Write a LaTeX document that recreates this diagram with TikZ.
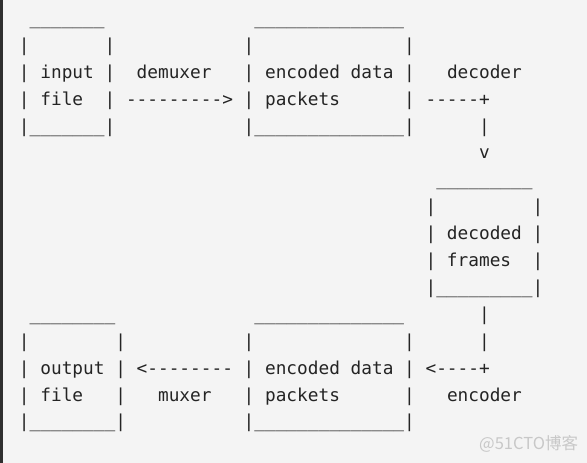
\documentclass[tikz,border=0pt]{standalone}
\usepackage{fontspec}
\setmonofont{DejaVu Sans Mono}
\newfontfamily\cjkfont{Noto Sans CJK SC}
\definecolor{bgc}{HTML}{F4F4F4}
\definecolor{barc}{HTML}{2F2F2F}
\definecolor{txc}{HTML}{242424}
\definecolor{wmc}{HTML}{C8C8C8}
\tikzset{
  asc/.style={anchor=base west, inner sep=0pt, outer sep=0pt, text=txc,
    font=\ttfamily\fontsize{17.77pt}{20pt}\selectfont},
  wm/.style={anchor=base west, inner sep=0pt, text=wmc,
    font=\cjkfont\fontsize{16.5pt}{18pt}\selectfont}
}
\newcommand\cell[4]{\node[asc] (#1) at ({19+#2*10.7},{24.4+#3*26.9}) {#4};}
\begin{document}
\begin{tikzpicture}[x=1pt,y=-1pt]
\fill[bgc] (0,0) rectangle (587,463);
\useasboundingbox (0,0) rectangle (587,463);
\fill[barc] (0,0) rectangle (3,463);
% row 0
\cell{a0}{1}{0}{\_\_\_\_\_\_\_}
\cell{b0}{22}{0}{\_\_\_\_\_\_\_\_\_\_\_\_\_\_}
% row 1
\cell{a1l}{0}{1}{|}
\cell{a1r}{8}{1}{|}
\cell{b1l}{21}{1}{|}
\cell{b1r}{36}{1}{|}
% row 2
\cell{a2}{0}{2}{| input |}
\cell{demux}{11}{2}{demuxer}
\cell{b2}{21}{2}{| encoded data |}
\cell{dec}{40}{2}{decoder}
% row 3
\cell{a3l}{0}{3}{| file}
\cell{a3r}{8}{3}{|}
\cell{arr1}{10}{3}{--------->}
\cell{b3l}{21}{3}{| packets}
\cell{b3r}{36}{3}{|}
\cell{arr2}{38}{3}{-----+}
% row 4
\cell{a4}{0}{4}{|\_\_\_\_\_\_\_|}
\cell{b4}{21}{4}{|\_\_\_\_\_\_\_\_\_\_\_\_\_\_|}
\cell{v4}{43}{4}{|}
% row 5
\cell{v5}{43}{5}{v}
% row 6
\cell{c6}{39}{6}{\_\_\_\_\_\_\_\_\_}
% row 7
\cell{c7l}{38}{7}{|}
\cell{c7r}{48}{7}{|}
% row 8
\cell{c8}{38}{8}{| decoded |}
% row 9
\cell{c9l}{38}{9}{| frames}
\cell{c9r}{48}{9}{|}
% row 10
\cell{c10}{38}{10}{|\_\_\_\_\_\_\_\_\_|}
% row 11
\cell{d11}{1}{11}{\_\_\_\_\_\_\_\_}
\cell{e11}{22}{11}{\_\_\_\_\_\_\_\_\_\_\_\_\_\_}
\cell{v11}{43}{11}{|}
% row 12
\cell{d12l}{0}{12}{|}
\cell{d12r}{9}{12}{|}
\cell{e12l}{21}{12}{|}
\cell{e12r}{36}{12}{|}
\cell{v12}{43}{12}{|}
% row 13
\cell{d13}{0}{13}{| output |}
\cell{arr3}{11}{13}{<--------}
\cell{e13}{21}{13}{| encoded data |}
\cell{arr4}{38}{13}{<----+}
% row 14
\cell{d14l}{0}{14}{| file}
\cell{d14r}{9}{14}{|}
\cell{mux}{13}{14}{muxer}
\cell{e14l}{21}{14}{| packets}
\cell{e14r}{36}{14}{|}
\cell{enc}{40}{14}{encoder}
% row 15
\cell{d15}{0}{15}{|\_\_\_\_\_\_\_\_|}
\cell{e15}{21}{15}{|\_\_\_\_\_\_\_\_\_\_\_\_\_\_|}
% watermark
\node[wm] (wmark) at (479,449) {@51CTO博客};
\end{tikzpicture}
\end{document}
